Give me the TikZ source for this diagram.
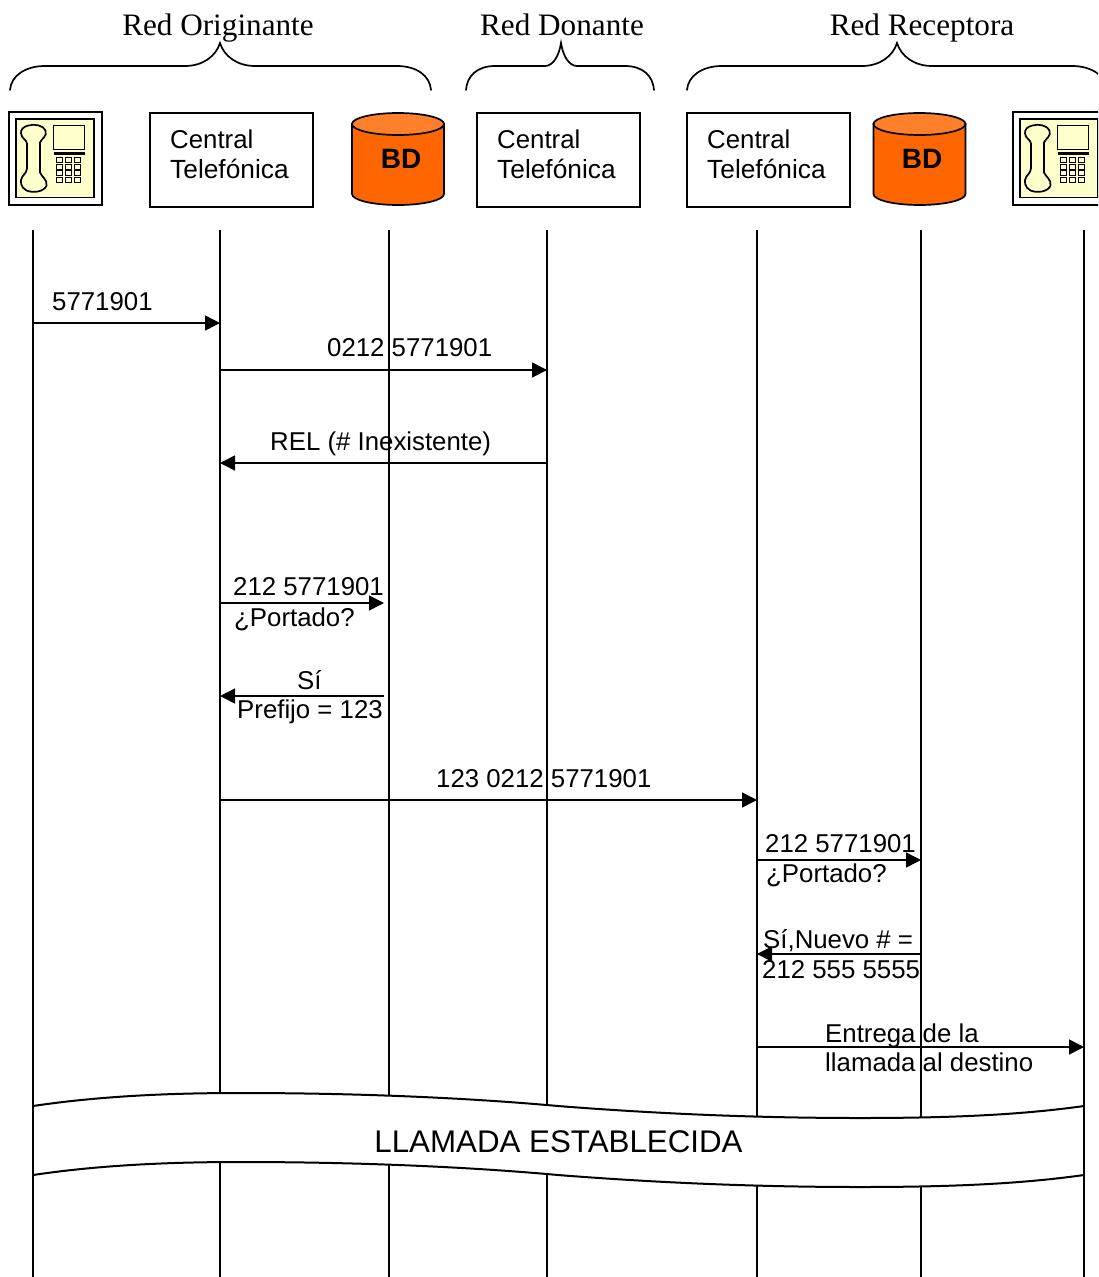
\documentclass[tikz,border=0pt]{standalone}
\usepackage{fontspec}
\setmainfont{Liberation Sans}
\newfontfamily\serifface{Liberation Serif}
\usetikzlibrary{arrows.meta}
\definecolor{padyellow}{HTML}{FFFFCC}
\definecolor{dborange}{HTML}{FF6600}
\definecolor{dbtop}{HTML}{FF7F2A}
\tikzset{
  x=1pt,y=-1pt,
  lifeline/.style={line width=1.5pt},
  msg/.style={line width=1.5pt,-{Triangle[length=15pt,width=15pt]}},
  lbl/.style={anchor=base west,inner sep=0pt,font=\fontsize{25.8}{30}\selectfont},
  lblwide/.style={anchor=base west,inner sep=0pt,font=\fontsize{26.3}{30}\selectfont},
  title/.style={anchor=base,inner sep=0pt,font=\serifface\fontsize{31.2}{36}\selectfont},
  central/.style={draw,line width=1.7pt,fill=white,minimum width=163pt,minimum height=94pt,inner sep=0pt},
  brace/.style={line width=1.7pt,line cap=round},
  band/.style={line width=2pt},
  phone/.pic={
    \draw[line width=2pt,fill=white] (-46.5,-46.5) rectangle (46.5,46.5);
    \draw[line width=1.8pt,fill=padyellow] (-39.5,-39.5) rectangle (38.5,39);
    \draw[line width=1.7pt,fill=padyellow]
      (-27,-33) .. controls (-21,-35) and (-12,-33) .. (-10,-28)
      .. controls (-8,-22) and (-14,-20) .. (-15.5,-16)
      -- (-15.5,14)
      .. controls (-14,18) and (-8,21) .. (-9,27)
      .. controls (-11,33) and (-22,35) .. (-29,32)
      .. controls (-35,29) and (-36,22) .. (-33,18)
      .. controls (-30,14) and (-28.5,13) .. (-28.5,10)
      -- (-28.5,-15)
      .. controls (-29,-19) and (-34,-20) .. (-34.5,-25)
      .. controls (-35,-29) and (-32,-32) .. (-27,-33) -- cycle;
    \draw[line width=1.6pt] (-2,-33) rectangle (29,-9);
    \draw[line width=2.2pt] (-2,-5) -- (29,-5);
    \foreach \kx in {1,10,19}{
      \foreach \ky in {-1,6,12,19}{
        \draw[line width=1.6pt] (\kx,\ky) rectangle (\kx+6,\ky+5);
      }
    }
  },
  dbcyl/.pic={
    \draw[line width=1.7pt,fill=dborange] (-46,-35) -- (-46,35)
      arc[start angle=180,end angle=360,x radius=46,y radius=-11] -- (46,-35) -- cycle;
    \draw[line width=1.7pt,fill=dbtop] (0,-35) ellipse[x radius=46,y radius=11];
  }
}
\newcommand{\wavepath}[1]{
  (33,1106+#1) .. controls (100,1096+#1) and (170,1093+#1) .. (240,1093+#1)
  .. controls (360,1093+#1) and (470,1098+#1) .. (558,1106+#1)
  .. controls (660,1114+#1) and (760,1118+#1) .. (860,1118+#1)
  .. controls (950,1118+#1) and (1020,1115+#1) .. (1084,1106+#1)}
\begin{document}
\begin{tikzpicture}
\useasboundingbox (0,0) rectangle (1098,1277);
\clip (0,0) rectangle (1098,1277);
\fill[white] (0,0) rectangle (1098,1277);

% titles and braces
\node[title] (t1) at (218,35) {Red Originante};
\node[title] (t2) at (562,35) {Red Donante};
\node[title] (t3) at (922,35) {Red Receptora};
\draw[brace] (10,90) .. controls (11,76) and (25,66) .. (45,66) -- (185,66) .. controls (203,66) and (216,56) .. (220,43) .. controls (224,56) and (237,66) .. (255,66) -- (397,66) .. controls (417,66) and (430,76) .. (431,90);
\draw[brace] (466,90) .. controls (467,76) and (477,66) .. (495,66) -- (545,66) .. controls (553,66) and (559,56) .. (561,43) .. controls (563,56) and (569,66) .. (577,66) -- (625,66) .. controls (643,66) and (653,76) .. (654,90);
\draw[brace] (687,90) .. controls (688,76) and (702,66) .. (722,66) -- (862,66) .. controls (880,66) and (893,56) .. (897,43) .. controls (901,56) and (914,66) .. (932,66) -- (1072,66) .. controls (1092,66) and (1106,76) .. (1107,90);

% top row
\pic at (55.5,158.5) {phone};
\pic at (1059.5,158.5) {phone};
\node[central] (c1) at (231.5,160) {};
\node[central] (c2) at (558.5,160) {};
\node[central] (c3) at (768.5,160) {};
\foreach \cx/\cn in {170/a,497/b,707/c}{
  \node[lbl] (ct\cn) at (\cx,148) {Central};
  \node[lblwide] (cu\cn) at (\cx,178) {Telefónica};
}
\pic at (398,159) {dbcyl};
\pic at (919.5,159) {dbcyl};
\node[inner sep=0pt,font=\bfseries\fontsize{28}{32}\selectfont] (bd1) at (401,159) {BD};
\node[inner sep=0pt,font=\bfseries\fontsize{28}{32}\selectfont] (bd2) at (922,159) {BD};

% lifelines
\foreach \ln/\lx in {a/33,b/220,c/389,d/547,e/757,f/921,g/1084}{
  \coordinate (\ln top) at (\lx,230);
  \coordinate (\ln bot) at (\lx,1277);
  \draw[lifeline] (\ln top) -- (\ln bot);
}

% message ends
\coordinate (m1a) at (33,323);   \coordinate (m1b) at (220,323);
\coordinate (m2a) at (220,370);  \coordinate (m2b) at (547,370);
\coordinate (m3a) at (547,463);  \coordinate (m3b) at (220,463);
\coordinate (m4a) at (220,603);  \coordinate (m4b) at (384,603);
\coordinate (m5a) at (384,696);  \coordinate (m5b) at (220,696);
\coordinate (m6a) at (220,800);  \coordinate (m6b) at (757,800);
\coordinate (m7a) at (757,860);  \coordinate (m7b) at (921,860);
\coordinate (m8a) at (921,954);  \coordinate (m8b) at (757,954);
\coordinate (m9a) at (757,1047); \coordinate (m9b) at (1084,1047);
\foreach \i in {1,...,9}{ \draw[msg] (m\i a) -- (m\i b); }

% labels
\node[lbl] (l1) at (52,310) {5771901};
\node[lbl] (l2) at (327,356) {0212 5771901};
\node[lbl] (l3) at (270,450) {REL (\# Inexistente)};
\node[lbl] (l4) at (233,595) {212 5771901};
\node[lbl] (l5) at (234,626) {¿Portado?};
\node[lbl] (l6) at (297,689) {Sí};
\node[lbl] (l7) at (237,718) {Prefijo = 123};
\node[lbl] (l8) at (436,787) {123 0212 5771901};
\node[lbl] (l9) at (765,852) {212 5771901};
\node[lbl] (l10) at (766,882) {¿Portado?};
\node[lbl] (l11) at (763,948) {Sí,Nuevo \# =};
\node[lbl] (l12) at (762,978) {212 555 5555};
\node[lbl] (l13) at (825,1042) {Entrega de la};
\node[lbl] (l14) at (825,1071) {llamada al destino};

% band
\fill[white] \wavepath{0} -- (1084,1175) .. controls (1020,1184) and (950,1187) .. (860,1187)
  .. controls (760,1187) and (660,1183) .. (558,1175)
  .. controls (470,1167) and (360,1162) .. (240,1162)
  .. controls (170,1162) and (100,1165) .. (33,1175) -- cycle;
\draw[band] \wavepath{0};
\draw[band] \wavepath{69};
\draw[lifeline] (33,1106) -- (33,1175);
\draw[lifeline] (1084,1106) -- (1084,1175);
\node[inner sep=0pt,font=\fontsize{31.3}{36}\selectfont] (call) at (558.5,1142) {LLAMADA ESTABLECIDA};
\end{tikzpicture}
\end{document}
